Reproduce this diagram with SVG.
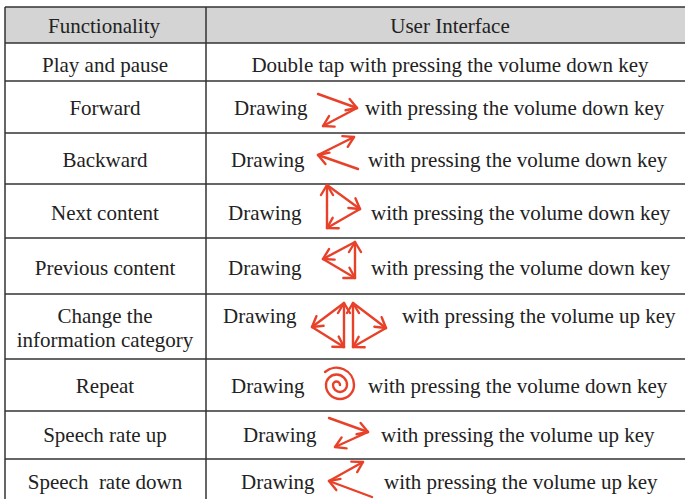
<svg xmlns="http://www.w3.org/2000/svg" width="685" height="499" viewBox="0 0 685 499">
<defs>
<marker id="ah" viewBox="-12 -8 14 16" refX="0" refY="0" markerWidth="14" markerHeight="16" markerUnits="userSpaceOnUse" orient="auto" overflow="visible">
<path d="M-10,-6 L0,0 L-10,6" fill="none" stroke="#e8412a" stroke-width="2.4" stroke-linecap="round" stroke-linejoin="round"/>
</marker>
</defs>
<style>
text{font-family:"Liberation Serif","Times New Roman",serif;font-size:21px;fill:#222;}
.c{text-anchor:middle;}
.grid{stroke:#333;stroke-width:1.5;fill:none;}
.a{stroke:#e8412a;stroke-width:2.4;fill:none;stroke-linecap:round;marker-end:url(#ah);}
.sp{stroke:#e8412a;stroke-width:2.4;fill:none;stroke-linecap:round;}
</style>
<rect x="0" y="0" width="685" height="499" fill="#fff"/>
<g id="header">
<rect x="5" y="7" width="680" height="36" fill="#d4d4d4"/>
<text class="c" x="104" y="33">Functionality</text>
<text class="c" x="450" y="33">User Interface</text>
</g>
<g id="grid" class="grid">
<line x1="5" y1="7" x2="685" y2="7"/>
<line x1="5" y1="7" x2="5" y2="499"/>
<line x1="206" y1="7" x2="206" y2="499"/>
<line x1="5" y1="43" x2="685" y2="43"/>
<line x1="5" y1="81" x2="685" y2="81"/>
<line x1="5" y1="133" x2="685" y2="133"/>
<line x1="5" y1="184" x2="685" y2="184"/>
<line x1="5" y1="238" x2="685" y2="238"/>
<line x1="5" y1="294" x2="685" y2="294"/>
<line x1="5" y1="359" x2="685" y2="359"/>
<line x1="5" y1="411" x2="685" y2="411"/>
<line x1="5" y1="459" x2="685" y2="459"/>
</g>
<g id="row-play">
<text class="c" x="105" y="72">Play and pause</text>
<text class="c" x="450" y="72">Double tap with pressing the volume down key</text>
</g>
<g id="row-forward">
<text class="c" x="105" y="115">Forward</text>
<text x="234" y="115">Drawing</text>
<text x="365" y="115">with pressing the volume down key</text>
<path class="a" d="M318,94 L357,108"/>
<path class="a" d="M357,108 L323,126"/>
</g>
<g id="row-backward">
<text class="c" x="105" y="167">Backward</text>
<text x="231" y="167">Drawing</text>
<text x="368" y="167">with pressing the volume down key</text>
<path class="a" d="M358,169 L318,155"/>
<path class="a" d="M318,155 L354,137"/>
</g>
<g id="row-next">
<text class="c" x="105" y="220">Next content</text>
<text x="228" y="220">Drawing</text>
<text x="371" y="220">with pressing the volume down key</text>
<path class="a" d="M327,228 L327,185"/>
<path class="a" d="M327,185 L360,209"/>
<path class="a" d="M360,209 L327,228"/>
</g>
<g id="row-previous">
<text class="c" x="105" y="275">Previous content</text>
<text x="228" y="275">Drawing</text>
<text x="371" y="275">with pressing the volume down key</text>
<path class="a" d="M355,278 L355,242"/>
<path class="a" d="M355,242 L323,259"/>
<path class="a" d="M323,259 L355,278"/>
</g>
<g id="row-change">
<text class="c" x="105" y="323">Change the</text>
<text class="c" x="105" y="347">information category</text>
<text x="223" y="323">Drawing</text>
<text x="402" y="323">with pressing the volume up key</text>
<path class="a" d="M344,347 L344,303"/>
<path class="a" d="M344,303 L312,327"/>
<path class="a" d="M312,327 L344,347"/>
<path class="a" d="M353,347 L353,303"/>
<path class="a" d="M353,303 L386,328"/>
<path class="a" d="M386,328 L353,347"/>
</g>
<g id="row-repeat">
<text class="c" x="105" y="393">Repeat</text>
<text x="231" y="393">Drawing</text>
<text x="368" y="393">with pressing the volume down key</text>
<path class="sp" d="M340,385 A3.5,3.5 0 1 0 333,385 A7,7 0 0 0 347,385 A10.5,10.5 0 0 0 326,385 A14,14 0 0 0 354,385 A17.5,17.5 0 0 0 325,372"/>
</g>
<g id="row-speedup">
<text class="c" x="105" y="442">Speech rate up</text>
<text x="243" y="442">Drawing</text>
<text x="381" y="442">with pressing the volume up key</text>
<path class="a" d="M329,418 L368,432"/>
<path class="a" d="M368,432 L335,447"/>
</g>
<g id="row-speeddown">
<text class="c" x="105" y="489" xml:space="preserve">Speech  rate down</text>
<text x="241" y="489">Drawing</text>
<text x="384" y="489">with pressing the volume up key</text>
<path class="a" d="M372,497 L329,481"/>
<path class="a" d="M329,481 L363,462"/>
</g>
</svg>
